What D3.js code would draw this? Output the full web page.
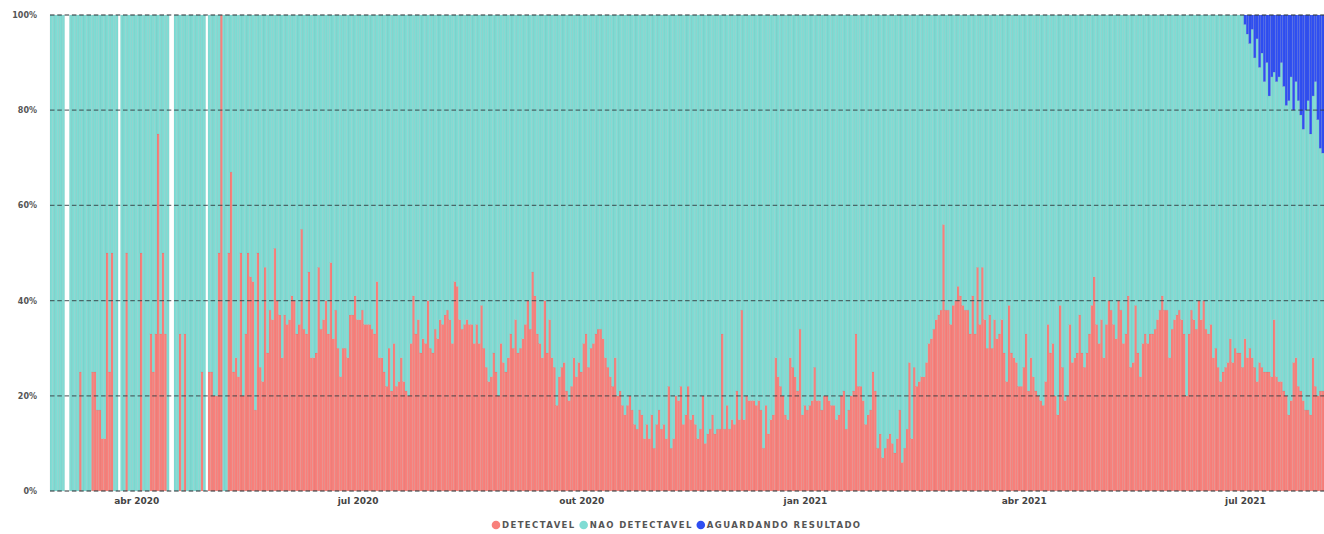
<!DOCTYPE html>
<html>
<head>
<meta charset="utf-8">
<script src="https://cdn.jsdelivr.net/npm/d3@7"></script>
<style>
  html, body { margin: 0; padding: 0; background: #fff; }
  svg { display: block; font-family: "DejaVu Sans", sans-serif; }
</style>
</head>
<body>
<svg id="chart"></svg>
<script>
// first day shown, one value per day after it (null = no tests that day)
const inicio = '2020-02-26';

// % DETECTAVEL per day
const detectavel = [
  // fev - mai 2020
  0, 0, 0, 0, 0, 0, null, null, 0, 0, 0, 0, 25, 0, 0, 0, 0, 25, 25, 17, 17, 11, 11, 50, 25, 50, 0, 0, null, 0,
  0, 50, 0, 0, 0, 0, 0, 50, 0, 0, 0, 33, 25, 33, 75, 33, 50, 33, 0, null, null, 0, 0, 33, 0, 33, 0, 0, 0, 0,
  0, 0, 25, 0, null, 25, 25, 20, 20, 50, 100, 0, 0, 50,
  // mai - set 2020
  67, 25, 28, 24, 50, 20, 33, 50, 45, 44, 17, 50, 26, 23, 47, 29, 38, 36, 51, 40, 37,
  28, 37, 35, 36, 41, 40, 33, 35, 55, 34, 33, 46, 28, 28, 29, 47, 34, 36,
  40, 33, 48, 32, 38, 30, 24, 30, 30, 28, 37, 37, 41, 36, 36, 38, 35, 35, 35, 34, 33,
  44, 28, 28, 25, 22, 30, 21, 31, 22, 23, 28, 23, 21, 20, 31, 41, 33, 36, 29, 32, 31,
  40, 30, 29, 34, 32, 36, 35, 37, 38, 36, 31, 44, 43, 36, 34, 35, 36, 35, 35, 31, 35, 31,
  // set - dez 2020
  39, 30, 26, 23, 24, 29, 25, 20, 31, 27, 25, 28, 33, 30, 36, 29, 30, 32, 35, 40, 34,
  46, 41, 33, 31, 28, 40, 29, 36, 28, 26, 18, 24, 26, 27, 21, 19, 22, 28, 24, 27, 25,
  31, 33, 26, 30, 31, 33, 34, 34, 32, 28, 26, 24, 22, 28, 20, 21, 18, 16, 18, 20, 17,
  14, 13, 17, 16, 11, 14, 11, 16, 9, 14, 17, 13, 14, 11, 22, 9, 11, 20, 19, 22, 14,
  16, 22, 15, 16, 14, 11, 13, 20, 10, 12, 13, 16, 12, 13, 13, 33, 13, 18, 13, 15, 14, 21, 15,
  // dez 2020 - mar 2021
  38, 15, 20, 19, 19, 19, 18, 19, 17, 9, 18, 12, 15, 16, 28, 24, 22, 20, 16, 15, 28,
  26, 24, 21, 34, 16, 18, 17, 18, 19, 26, 19, 19, 17, 20, 20, 19, 18, 18, 15, 16, 20,
  21, 13, 17, 20, 21, 33, 22, 22, 19, 14, 16, 17, 25, 21, 9, 12, 7, 9, 11, 12, 10, 8,
  11, 17, 6, 9, 13, 27, 11, 26, 22, 23, 24, 24, 27, 31, 32, 34, 36, 37, 38, 56,
  38, 38, 35, 39, 40, 43, 41, 39, 38, 38, 33, 41, 33, 47, 35, 47, 36, 30, 37, 30, 36, 32, 33,
  // mar - jun 2021
  36, 29, 23, 39, 29, 28, 27, 22, 22, 26, 33, 21, 28, 24, 21, 20, 19, 18, 23, 35,
  29, 31, 20, 16, 39, 26, 19, 20, 35, 27, 28, 29, 37, 29, 26, 29, 33, 39, 45, 35,
  31, 36, 28, 35, 40, 38, 35, 32, 40, 38, 31, 33, 41, 26, 27, 39, 29, 24, 31, 33,
  31, 33, 33, 34, 36, 38, 41, 38, 38, 28, 34, 36, 37, 38, 36, 33, 20, 33, 38, 36, 34, 40,
  // jun - ago 2021
  36, 40, 34, 33, 35, 28, 30, 26, 23, 25, 26, 27, 32, 27, 30, 29, 29, 26, 32, 28,
  30, 28, 26, 23, 27, 26, 25, 25, 25, 24, 36, 24, 23, 23, 21, 20, 16, 19, 27, 28,
  22, 21, 19, 17, 17, 16, 28, 22, 20, 21, 21
];

// % AGUARDANDO RESULTADO, from this day on
const inicioAguardando = '2021-07-01';
const aguardando = [
  2, 4, 6, 3, 9, 5, 11, 8, 14, 10, 17, 13, 12, 14, 13, 10, 15, 19, 18, 13,
  20, 14, 18, 21, 24, 20, 18, 25, 17, 14, 22, 28, 29
];

const series = ['DETECTAVEL', 'NAO DETECTAVEL', 'AGUARDANDO RESULTADO'];
const cores = ['#f8807b', '#7fdcd4', '#2f4ff2'];
const yTicks = [0, 20, 40, 60, 80, 100];
const xTicks = ['2020-04-01', '2020-07-01', '2020-10-01', '2021-01-01', '2021-04-01', '2021-07-01'];

const width = 1324, height = 534;
const margin = { top: 15, right: 0, bottom: 43, left: 50 };

const parse = d3.utcParse('%Y-%m-%d');
const day0 = parse(inicio);
const agStart = d3.utcDay.count(day0, parse(inicioAguardando));

const rows = [];
detectavel.forEach((d, i) => {
  if (d === null) return;
  const ag = i >= agStart ? (aguardando[i - agStart] || 0) : 0;
  rows.push({ date: d3.utcDay.offset(day0, i), det: d, nao: 100 - d - ag, ag: ag });
});

const ptBR = d3.timeFormatLocale({
  dateTime: '%A, %e de %B de %Y. %X', date: '%d/%m/%Y', time: '%H:%M:%S',
  periods: ['AM', 'PM'],
  days: ['domingo', 'segunda', 'terça', 'quarta', 'quinta', 'sexta', 'sábado'],
  shortDays: ['dom', 'seg', 'ter', 'qua', 'qui', 'sex', 'sáb'],
  months: ['janeiro', 'fevereiro', 'março', 'abril', 'maio', 'junho', 'julho', 'agosto', 'setembro', 'outubro', 'novembro', 'dezembro'],
  shortMonths: ['jan', 'fev', 'mar', 'abr', 'mai', 'jun', 'jul', 'ago', 'set', 'out', 'nov', 'dez']
});
const fmtMes = ptBR.utcFormat('%b %Y');

const svg = d3.select('#chart')
  .attr('width', width)
  .attr('height', height);

const x = d3.scaleUtc()
  .domain([day0, d3.utcDay.offset(day0, detectavel.length)])
  .range([margin.left, width - margin.right]);

const y = d3.scaleLinear()
  .domain([0, 100])
  .range([height - margin.bottom, margin.top]);

const color = d3.scaleOrdinal()
  .domain(['det', 'nao', 'ag'])
  .range(cores);

const stacked = d3.stack()
  .keys(['det', 'nao', 'ag'])(rows);

const barW = d => x(d3.utcDay.offset(d.data.date, 1)) - x(d.data.date);

svg.append('g')
  .selectAll('g')
  .data(stacked)
  .join('g')
    .attr('fill', d => color(d.key))
  .selectAll('rect')
  .data(d => d)
  .join('rect')
    .attr('x', d => x(d.data.date))
    .attr('y', d => y(d[1]))
    .attr('width', barW)
    .attr('height', d => y(d[0]) - y(d[1]))
    .attr('stroke', 'rgba(70,70,70,0.12)')
    .attr('stroke-width', 0.5);

// dashed grid over the bars
svg.append('g')
  .selectAll('line')
  .data(yTicks)
  .join('line')
    .attr('x1', margin.left)
    .attr('x2', width - margin.right)
    .attr('y1', d => y(d))
    .attr('y2', d => y(d))
    .attr('stroke', 'rgba(45,55,60,0.7)')
    .attr('stroke-width', 1.3)
    .attr('stroke-dasharray', '4.5,2.8');

const yAxis = svg.append('g')
  .attr('transform', `translate(${margin.left - 10},0)`)
  .call(d3.axisLeft(y).tickValues(yTicks).tickSize(0).tickPadding(3).tickFormat(d => d + '%'));
yAxis.select('.domain').remove();
yAxis.selectAll('text')
  .attr('font-family', '"DejaVu Sans", sans-serif')
  .attr('font-size', 8)
  .attr('font-weight', 'bold')
  .attr('fill', '#555');

const xAxis = svg.append('g')
  .attr('transform', `translate(0,${height - margin.bottom})`)
  .call(d3.axisBottom(x)
    .tickValues(xTicks.map(t => d3.utcHour.offset(parse(t), 12)))
    .tickSize(0)
    .tickPadding(7)
    .tickFormat(fmtMes));
xAxis.select('.domain').remove();
xAxis.selectAll('text')
  .attr('font-family', '"DejaVu Sans", sans-serif')
  .attr('font-size', 9)
  .attr('font-weight', 'bold')
  .attr('fill', '#444');

// legend
const legend = svg.append('g')
  .attr('transform', `translate(0,${height - 6})`);
let cx = 496;
series.forEach((name, i) => {
  legend.append('circle')
    .attr('cx', cx)
    .attr('cy', -3)
    .attr('r', 4.3)
    .attr('fill', cores[i]);
  const t = legend.append('text')
    .attr('x', cx + 6)
    .attr('y', 0)
    .attr('font-size', 8.5)
    .attr('font-weight', 'bold')
    .attr('letter-spacing', 1.4)
    .attr('fill', '#555')
    .text(name);
  cx += 6 + t.node().getComputedTextLength() + 8;
});
</script>
</body>
</html>
